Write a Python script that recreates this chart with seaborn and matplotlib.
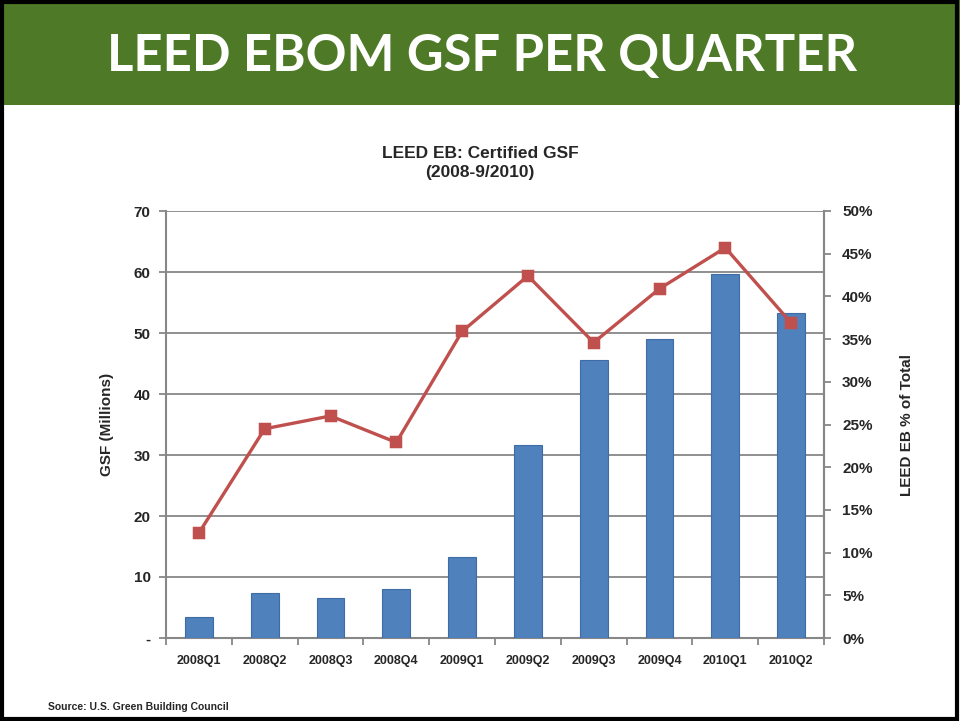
import numpy as np
import pandas as pd
import matplotlib
matplotlib.use("Agg")
import matplotlib.pyplot as plt
import seaborn as sns
from matplotlib.patches import Rectangle
from matplotlib.ticker import FixedLocator, FuncFormatter

# 数据
quarters = ['2008Q1', '2008Q2', '2008Q3', '2008Q4', '2009Q1',
            '2009Q2', '2009Q3', '2009Q4', '2010Q1', '2010Q2']
gsf_millions = [3.5, 7.3, 6.6, 8.1, 13.3, 31.6, 45.6, 49.0, 59.6, 53.2]
pct_of_total = [12.3, 24.5, 26.0, 22.9, 35.9, 42.4, 34.6, 40.9, 45.7, 36.9]
left_ticks = [0, 10, 20, 30, 40, 50, 60, 70]
right_ticks = [0, 5, 10, 15, 20, 25, 30, 35, 40, 45, 50]

sns.set_style("white")
plt.rcParams['font.family'] = ['Liberation Sans', 'DejaVu Sans']

bar_color = '#4F81BD'
line_color = '#C0504D'
axis_gray = '#878787'

fig = plt.figure(figsize=(9.6, 7.21), dpi=100)

# 幻灯片标题栏
fig.patches.append(Rectangle((0, 1 - 105 / 721), 1, 105 / 721, transform=fig.transFigure,
                             facecolor='#4E7A27', edgecolor='none', zorder=0))
fig.patches.append(Rectangle((0.002, 0.003), 0.995, 0.994, transform=fig.transFigure,
                             facecolor='none', edgecolor='black', linewidth=3, zorder=5))
fig.text(0.502, 1 - 56 / 721, 'LEED EBOM GSF PER QUARTER', color='white',
         fontsize=36.5, fontweight='bold', family=['Lato', 'DejaVu Sans'],
         ha='center', va='center')

ax = fig.add_axes([166 / 960, 1 - 638 / 721, (824 - 166) / 960, (638 - 211) / 721])
df = pd.DataFrame({'quarter': quarters, 'gsf': gsf_millions, 'pct': pct_of_total})

sns.barplot(data=df, x='quarter', y='gsf', color=bar_color, width=0.42,
            saturation=1, edgecolor='#3E6DA6', linewidth=0.8, ax=ax, zorder=3)
ax.set_xlim(-0.5, 9.5)
ax.set_ylim(0, 70)
ax.yaxis.set_major_locator(FixedLocator(left_ticks))
ax.yaxis.set_major_formatter(FuncFormatter(lambda v, p: '-' if v == 0 else f'{v:.0f}'))
ax.yaxis.grid(True, color=axis_gray, linewidth=1.3, zorder=0)
ax.set_axisbelow(True)
ax.set_xlabel('')
ax.set_ylabel('GSF (Millions)', fontsize=11, fontweight='bold', labelpad=14)
ax.tick_params(axis='y', which='major', length=5, width=1.3, color=axis_gray,
               direction='out', labelsize=11, pad=6, left=True)
for lab in ax.get_yticklabels():
    lab.set_fontweight('bold')

# x 轴：刻度在分类之间
ax.set_xticks(np.arange(len(quarters)))
ax.set_xticklabels(quarters, fontsize=9, fontweight='bold')
ax.set_xticks(np.arange(-0.5, len(quarters), 1.0), minor=True)
ax.tick_params(axis='x', which='major', length=0, pad=12)
ax.tick_params(axis='x', which='minor', length=5, width=1.3, color=axis_gray,
               direction='out', bottom=True)

for side in ['left', 'bottom', 'right']:
    ax.spines[side].set_color(axis_gray)
    ax.spines[side].set_linewidth(1.5)
ax.spines['top'].set_visible(False)

ax2 = ax.twinx()
sns.pointplot(data=df, x='quarter', y='pct', color=line_color, markers='s',
              markersize=7, linewidth=2.4, errorbar=None, ax=ax2)
ax2.set_xlim(-0.5, 9.5)
ax2.set_ylim(0, 50)
ax2.yaxis.set_major_locator(FixedLocator(right_ticks))
ax2.yaxis.set_major_formatter(FuncFormatter(lambda v, p: f'{v:.0f}%'))
ax2.tick_params(axis='y', length=5, width=1.3, color=axis_gray, direction='out',
                labelsize=11, pad=8, right=True)
for lab in ax2.get_yticklabels():
    lab.set_fontweight('bold')
ax2.set_ylabel('LEED EB % of Total', fontsize=11, fontweight='bold', labelpad=20)
ax2.set_xlabel('')
for side in ['top', 'left', 'bottom']:
    ax2.spines[side].set_visible(False)
ax2.spines['right'].set_color(axis_gray)
ax2.spines['right'].set_linewidth(1.5)

fig.text(0.5, 1 - 163 / 721, 'LEED EB: Certified GSF\n(2008-9/2010)', ha='center',
         va='center', fontsize=12.5, fontweight='bold', linespacing=1.3)
fig.text(48 / 960, 1 - 707 / 721, 'Source: U.S. Green Building Council', fontsize=7.5,
         fontweight='bold', ha='left', va='center')

fig.savefig('out.png', dpi=100)
plt.close(fig)
